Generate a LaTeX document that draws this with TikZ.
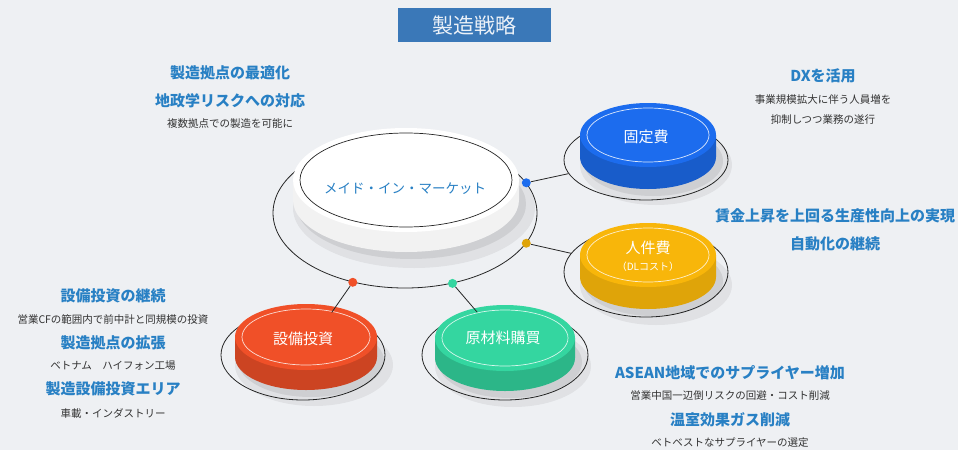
\documentclass[tikz,border=0pt]{standalone}
\usepackage{fontspec}
\setmainfont{Noto Sans CJK JP}
\usetikzlibrary{shapes.geometric,positioning}
\definecolor{bgray}{RGB}{238,240,243}
\definecolor{titleblue}{RGB}{58,120,184}
\definecolor{headblue}{RGB}{40,128,196}
\definecolor{notegray}{RGB}{50,50,50}
\definecolor{fixblue}{RGB}{28,108,238}
\definecolor{laboryellow}{RGB}{248,182,10}
\definecolor{capexred}{RGB}{240,80,40}
\definecolor{matgreen}{RGB}{52,214,160}

% disk: x, y, rx, ry, height, top colour, side colour, ring colour
\newcommand\drawdisk[8]{%
  \fill[black,opacity=0.06] (#1+8,#2+#5+8) ellipse (#3pt+8pt and #4pt+8pt);
  \fill[black,opacity=0.08] (#1+5,#2+#5+4) ellipse (#3pt+2pt and #4pt+3pt);
  \fill[#7] (#1-#3,#2) -- (#1-#3,#2+#5)
    arc[start angle=180,end angle=360,x radius=#3pt,y radius=#4pt]
    -- (#1+#3,#2) -- cycle;
  \fill[#6] (#1,#2) ellipse (#3pt and #4pt);
  \draw[#8,line width=0.7pt] (#1,#2) ellipse (#3pt-7pt and #4pt-5pt);
}

\tikzset{
  head/.style={font=\bfseries\fontsize{15}{18}\selectfont, text=headblue},
  note/.style={font=\fontsize{10.5}{13}\selectfont, text=notegray},
  disklabel/.style={font=\fontsize{15}{18}\selectfont, text=white, align=center},
  orbit/.style={draw=black!85, line width=0.8pt, ellipse, inner sep=0pt},
  dot/.style={circle, inner sep=0pt, minimum size=9pt},
  link/.style={draw=black!85, line width=0.8pt}
}

\begin{document}
\begin{tikzpicture}[x=1pt,y=-1pt]
  \fill[bgray] (0,0) rectangle (958,450);
  \useasboundingbox (0,0) rectangle (958,450);

  % title
  \node[fill=titleblue, minimum width=153pt, minimum height=34pt,
    text=white!90!titleblue, font=\fontsize{21}{24}\selectfont] (title) at (474,25) {製造戦略};

  % orbits
  \node[orbit, minimum width=264pt, minimum height=150pt] (mainorbit) at (405,213) {};
  \node[orbit, minimum width=164pt, minimum height=80pt] (fixorbit) at (646,160) {};
  \node[orbit, minimum width=164pt, minimum height=90pt] (laborbit) at (646,272) {};
  \node[orbit, minimum width=164pt, minimum height=90pt] (capexorbit) at (303,355) {};
  \node[orbit, minimum width=166pt, minimum height=90pt] (matorbit) at (505,355) {};

  % disks
  \drawdisk{406}{180}{113}{52}{20}{white}{black!5}{black!85}
  \drawdisk{648}{135}{68}{32}{22}{fixblue}{fixblue!85!black}{white!85!fixblue}
  \drawdisk{648}{255}{68}{32}{22}{laboryellow}{laboryellow!90!black}{white!80!laboryellow}
  \drawdisk{306}{337}{71}{33}{20}{capexred}{capexred!85!black}{white!80!capexred}
  \drawdisk{505}{338}{70}{33}{20}{matgreen}{matgreen!85!black}{white!80!matgreen}

  % dots and links
  \node[dot, fill=fixblue] (fixdot) at (mainorbit.14) {};
  \node[dot, fill=laboryellow!90!black] (labdot) at (mainorbit.-14) {};
  \node[dot, fill=capexred] (capexdot) at (mainorbit.233) {};
  \node[dot, fill=matgreen] (matdot) at (mainorbit.304) {};
  \draw[link] (fixdot) -- (fixorbit.190);
  \draw[link] (labdot) -- (laborbit.166);
  \draw[link] (capexdot) -- (capexorbit.56);
  \draw[link] (matdot) -- (matorbit.123);

  % disk labels
  \node[font=\fontsize{13.5}{16}\selectfont, text=headblue] (madein) at (405,189) {メイド・イン・マーケット};
  \node[disklabel] (fixed) at (646,137) {固定費};
  \node[disklabel, inner sep=0pt] (labor) at (648,256) {人件費\\[-1pt]{\fontsize{10}{12}\selectfont （DLコスト）}};
  \node[disklabel] (capex) at (303,339) {設備投資};
  \node[disklabel] (material) at (503,338) {原材料購買};

  % texts, top left
  \node[head] (optimize) at (230,73) {製造拠点の最適化};
  \node[head] (geopol) at (230,101) {地政学リスクへの対応};
  \node[note] (multisite) at (230,124) {複数拠点での製造を可能に};

  % texts, right
  \node[head] (dx) at (823,76) {DXを活用};
  \node[note] (dxnote) at (823,100) {事業規模拡大に伴う人員増を};
  \node[note] (dxnotetwo) at (823,120) {抑制しつつ業務の遂行};
  \node[head] (wage) at (835,216) {賃金上昇を上回る生産性向上の実現};
  \node[head] (automation) at (835,244) {自動化の継続};

  % texts, bottom left
  \node[head] (capexgo) at (113,296) {設備投資の継続};
  \node[note] (cfnote) at (113,319) {営業CFの範囲内で前中計と同規模の投資};
  \node[head] (expand) at (113,343) {製造拠点の拡張};
  \node[note] (vietnam) at (113,366) {ベトナム　ハイフォン工場};
  \node[head] (area) at (113,389) {製造設備投資エリア};
  \node[note] (auto) at (113,413) {車載・インダストリー};

  % texts, bottom right
  \node[head] (asean) at (730,373) {ASEAN地域でのサプライヤー増加};
  \node[note] (risk) at (730,396) {営業中国一辺倒リスクの回避・コスト削減};
  \node[head] (ghg) at (730,420) {温室効果ガス削減};
  \node[note] (best) at (730,443) {ベトベストなサプライヤーの選定};
\end{tikzpicture}
\end{document}
